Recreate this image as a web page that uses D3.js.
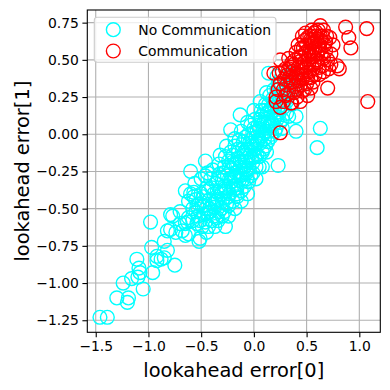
<!DOCTYPE html>
<html>
<head>
<meta charset="utf-8">
<script src="https://cdn.jsdelivr.net/npm/d3@7"></script>
<style>
  body { margin: 0; background: #fff; }
  svg { display: block; font-family: "DejaVu Sans", sans-serif; }
</style>
</head>
<body>
<svg id="chart"></svg>
<script>
// data: [error0, error1]
let noComm = [
  [-1.46,-1.23],[-1.39,-1.23],[-1.30,-1.10],[-1.19,-1.10],[-1.20,-1.13],[-1.24,-1.00],
  [-1.16,-0.97],[-1.10,-0.96],[-1.05,-1.04],[-1.08,-0.93],[-1.11,-0.84],[-1.09,-0.90],
  [-0.96,-0.93],[-0.97,-0.76],[-0.98,-0.59],[-0.92,-0.85],[-0.92,-0.82],[-0.88,-0.84],
  [-0.85,-0.83],[-0.82,-0.78],[-0.75,-0.88],[-0.85,-0.72],[-0.77,-0.55],[-0.70,-0.52],
  [-0.82,-0.65],[-0.79,-0.64],[-0.68,-0.65],[-0.65,-0.68],[-0.63,-0.59],[-0.70,-0.60],
  [-0.79,-0.54],[-0.74,-0.66],[-0.62,-0.67],[-0.52,-0.72],[-0.65,-0.60],[-0.58,-0.58],
  [-0.55,-0.52],[-0.49,-0.48],
  [-0.60,-0.25],[-0.46,-0.18],[-0.51,-0.70],[-0.46,-0.59],[-0.24,-0.55],
  [-0.65,-0.38],[-0.57,-0.39],[-0.16,-0.40],[-0.62,-0.45],
  [-0.58,-0.50],[-0.55,-0.44],[-0.53,-0.55],[-0.50,-0.40],[-0.49,-0.62],[-0.47,-0.48],
  [-0.45,-0.36],[-0.44,-0.53],[-0.42,-0.44],[-0.41,-0.30],[-0.40,-0.58],[-0.38,-0.40],
  [-0.37,-0.49],[-0.36,-0.33],[-0.35,-0.56],[-0.34,-0.44],[-0.33,-0.27],[-0.32,-0.38],
  [-0.31,-0.50],[-0.30,-0.31],[-0.29,-0.43],[-0.28,-0.22],[-0.27,-0.36],[-0.26,-0.47],
  [-0.25,-0.28],[-0.24,-0.18],[-0.23,-0.40],[-0.22,-0.32],[-0.21,-0.24],[-0.20,-0.14],
  [-0.19,-0.37],[-0.18,-0.28],[-0.17,-0.20],[-0.16,-0.42],[-0.15,-0.10],[-0.14,-0.31],
  [-0.13,-0.22],[-0.12,-0.15],[-0.11,-0.27],[-0.10,-0.05],[-0.09,-0.35],[-0.08,-0.18],
  [-0.07,-0.10],[-0.06,-0.24],[-0.05,0.00],[-0.04,-0.14],[-0.03,-0.28],[-0.02,-0.06],
  [-0.01,-0.19],[0.00,0.04],[0.01,-0.10],[0.02,-0.22],[0.03,0.02],[0.04,-0.04],
  [0.05,-0.15],[0.06,0.10],[0.07,-0.02],[0.08,0.06],[0.09,-0.10],[0.10,0.16],
  [0.11,0.02],[0.12,0.10],[0.13,-0.05],[0.14,0.20],[0.15,0.06],[0.16,0.14],
  [0.17,0.00],[0.18,0.24],[0.19,0.10],[0.20,0.18],[0.21,0.04],[0.22,0.30],
  [0.23,0.15],[0.24,0.22],[0.25,0.08],[0.26,0.34],[0.27,0.20],[0.28,0.28],
  [0.30,0.38],[0.31,0.14],[0.32,0.25],[0.34,0.32],[0.36,0.20],[0.38,0.42],[0.40,0.30],
  [-0.57,-0.42],[-0.54,-0.60],[-0.52,-0.47],[-0.48,-0.54],[-0.43,-0.38],[-0.39,-0.47],
  [-0.35,-0.39],[-0.33,-0.52],[-0.30,-0.45],[-0.28,-0.35],[-0.25,-0.42],[-0.23,-0.30],
  [-0.21,-0.19],[-0.19,-0.29],[-0.17,-0.34],[-0.15,-0.25],[-0.13,-0.18],[-0.11,-0.10],
  [-0.09,-0.22],[-0.07,-0.30],[-0.05,-0.12],[-0.03,-0.08],[-0.01,0.01],[0.01,-0.15],
  [0.03,-0.06],[0.05,0.04],[0.07,0.12],[0.09,0.00],[0.11,-0.08],[0.13,0.08],
  [0.15,0.16],[0.17,0.08],[0.19,0.20],[0.21,0.12],[0.23,0.26],[0.25,0.18],
  [0.27,0.10],[0.29,0.22],[0.33,0.36],[0.35,0.28],
  [-0.44,-0.26],[-0.42,-0.50],[-0.40,-0.36],[-0.39,-0.24],[-0.38,-0.55],[-0.36,-0.45],
  [-0.34,-0.30],[-0.33,-0.20],[-0.31,-0.40],[-0.30,-0.55],[-0.29,-0.26],[-0.27,-0.15],
  [-0.26,-0.38],[-0.24,-0.48],[-0.23,-0.22],[-0.22,-0.12],[-0.20,-0.35],[-0.20,-0.45],
  [-0.19,-0.20],[-0.18,-0.08],[-0.17,-0.26],[-0.16,-0.36],[-0.15,-0.16],[-0.14,-0.04],
  [-0.13,-0.28],[-0.12,-0.38],[-0.11,-0.18],[-0.10,-0.30],[-0.09,-0.12],[-0.08,-0.02],
  [-0.07,-0.26],[-0.06,-0.16],[-0.05,-0.32],[-0.04,-0.06],[-0.03,0.06],[-0.02,-0.16],
  [-0.01,-0.26],[0.00,-0.08],[0.01,0.10],[0.02,-0.02],[0.03,-0.14],[0.04,0.06],
  [0.05,-0.22],[0.06,-0.06],[0.07,0.16],[0.08,-0.12],[0.09,0.08],[0.10,-0.03],
  [0.11,0.20],[0.12,-0.12],[0.13,0.14],[0.14,0.02],[0.15,0.26],[0.16,-0.02],
  [0.17,0.18],[0.18,0.06],[0.19,0.30],[0.20,0.02],[0.21,0.22],[0.22,0.10],
  [0.23,0.34],[0.24,0.14],[0.26,0.26],[0.27,0.04],[0.28,0.18],[0.30,0.30],
  [0.31,0.22],[0.33,0.12],[0.35,0.40],[0.37,0.30],
  [-0.62,-0.56],[-0.60,-0.40],[-0.56,-0.33],[-0.54,-0.48],[-0.51,-0.58],[-0.50,-0.30],
  [-0.48,-0.42],[-0.46,-0.28],[-0.45,-0.66],[-0.43,-0.62],[-0.41,-0.52],[-0.37,-0.62],
  [-0.34,-0.58],[-0.28,-0.52],[-0.27,-0.62],[-0.18,-0.50],[-0.12,-0.45],[-0.06,-0.40],
  [0.02,-0.30],[0.08,-0.22],[0.12,0.28],[0.06,0.22],[0.00,0.16],[-0.06,0.08],
  [-0.12,0.02],[-0.18,-0.03],[-0.26,-0.08],[-0.32,-0.14],
  [-0.13,0.13],[-0.22,0.03],[0.14,0.41],[0.22,0.39],[0.63,0.04],[0.60,-0.09],
  [0.40,0.02],[0.40,0.12],[0.23,-0.21]
];

let comm = [
  [1.07,0.71],[0.87,0.72],[0.90,0.65],[0.92,0.58],[0.63,0.73],[0.70,0.31],[1.08,0.22],
  [0.81,0.44],[0.79,0.46],[0.73,0.47],[0.47,0.58],[0.51,0.65],[0.585,0.69],[0.65,0.66],
  [0.68,0.62],[0.62,0.60],[0.55,0.63],[0.54,0.54],[0.60,0.54],[0.66,0.51],[0.73,0.54],
  [0.71,0.44],[0.65,0.46],[0.57,0.47],[0.44,0.49],[0.38,0.47],[0.33,0.51],[0.24,0.41],
  [0.32,0.40],[0.41,0.41],[0.47,0.43],[0.51,0.38],[0.43,0.36],[0.35,0.35],[0.25,0.34],
  [0.54,0.31],[0.46,0.29],[0.38,0.28],[0.32,0.27],[0.21,0.25],[0.28,0.22],[0.36,0.21],
  [0.44,0.22],[0.51,0.26],[0.25,0.01],[0.21,0.22],[0.25,0.18],[0.35,0.21],[0.41,0.25],
  [0.40,0.55],[0.45,0.52],[0.50,0.60],[0.52,0.48],[0.55,0.56],[0.58,0.62],[0.60,0.50],
  [0.62,0.57],[0.64,0.63],[0.56,0.44],[0.48,0.40],[0.42,0.45],[0.37,0.42],[0.34,0.38],
  [0.30,0.44],[0.44,0.33],[0.50,0.34],[0.39,0.32],[0.57,0.68],[0.61,0.70],[0.53,0.66],
  [0.48,0.63],[0.45,0.58],[0.68,0.56],[0.70,0.50],[0.66,0.42],[0.62,0.45],[0.58,0.40],
  [0.54,0.38],[0.47,0.48],[0.43,0.40],[0.36,0.48],[0.31,0.33],[0.28,0.30],[0.58,0.58],
  [0.52,0.53],[0.63,0.66],[0.67,0.60],[0.60,0.64],[0.55,0.61],
  [0.42,0.60],[0.46,0.66],[0.49,0.55],[0.51,0.50],[0.53,0.58],[0.56,0.52],[0.59,0.66],
  [0.61,0.59],[0.57,0.55],[0.54,0.64],[0.50,0.45],[0.46,0.37],[0.40,0.38],[0.37,0.35],
  [0.33,0.44],[0.29,0.37],[0.27,0.42],[0.39,0.50],[0.45,0.45],[0.52,0.42],[0.60,0.48],
  [0.64,0.54],[0.69,0.66],[0.66,0.70],[0.55,0.70],[0.49,0.68],[0.43,0.52],[0.35,0.45],
  [0.41,0.30],[0.48,0.30],[0.56,0.35],[0.62,0.40],[0.75,0.60],[0.72,0.65],[0.23,0.30],
  [0.30,0.26],[0.19,0.41],[0.25,0.50]
];

let xTicks = [-1.5, -1.0, -0.5, 0.0, 0.5, 1.0];
let yTicks = [-1.25, -1.00, -0.75, -0.50, -0.25, 0.00, 0.25, 0.50, 0.75];
let seriesNames = ["No Communication", "Communication"];
let seriesColors = ["#00ffff", "#ff0000"];

let W = 390, H = 390;
let mLeft = 87.3, mRight = 380.3, mTop = 10, mBottom = 332.3;

let svg = d3.select("#chart").attr("width", W).attr("height", H);
svg.append("rect").attr("width", W).attr("height", H).attr("fill", "#fff");

let x = d3.scaleLinear().domain([-1.58, 1.199]).range([mLeft, mRight]);
let y = d3.scaleLinear().domain([-1.331, 0.835]).range([mBottom, mTop]);

let minus = s => s.replace("-", "\u2212");

// grid
let grid = svg.append("g");
grid.selectAll(".gx").data(xTicks).enter().append("line")
  .attr("x1", d => x(d)).attr("x2", d => x(d))
  .attr("y1", mTop).attr("y2", mBottom)
  .attr("stroke", "#b0b0b0").attr("stroke-width", 1.1);
grid.selectAll(".gy").data(yTicks).enter().append("line")
  .attr("y1", d => y(d)).attr("y2", d => y(d))
  .attr("x1", mLeft).attr("x2", mRight)
  .attr("stroke", "#b0b0b0").attr("stroke-width", 1.1);

// points
let pts = svg.append("g").attr("fill", "none").attr("stroke-width", 1.4);
pts.selectAll(".c0").data(noComm).enter().append("circle")
  .attr("cx", d => x(d[0])).attr("cy", d => y(d[1])).attr("r", 6.9)
  .attr("stroke", seriesColors[0]);
pts.selectAll(".c1").data(comm).enter().append("circle")
  .attr("cx", d => x(d[0])).attr("cy", d => y(d[1])).attr("r", 6.9)
  .attr("stroke", seriesColors[1]);

// axes
let xAxis = d3.axisBottom(x).tickValues(xTicks)
  .tickFormat(d => minus(d3.format(".1f")(d)))
  .tickSize(4.9).tickPadding(3.5).tickSizeOuter(0);
let yAxis = d3.axisLeft(y).tickValues(yTicks)
  .tickFormat(d => minus(d3.format(".2f")(d)))
  .tickSize(4.9).tickPadding(3.5).tickSizeOuter(0);

let gx = svg.append("g").attr("transform", `translate(0,${mBottom})`).call(xAxis);
let gy = svg.append("g").attr("transform", `translate(${mLeft},0)`).call(yAxis);
[gx, gy].forEach(g => {
  g.select(".domain").remove();
  g.selectAll("line").attr("stroke", "#000").attr("stroke-width", 1.1);
  g.selectAll("text").attr("fill", "#000")
    .style("font-family", "DejaVu Sans").style("font-size", "13.9px");
});

// frame
svg.append("rect")
  .attr("x", mLeft).attr("y", mTop)
  .attr("width", mRight - mLeft).attr("height", mBottom - mTop)
  .attr("fill", "none").attr("stroke", "#000").attr("stroke-width", 1.1);

// axis labels
svg.append("text")
  .attr("x", (mLeft + mRight) / 2).attr("y", 377)
  .attr("text-anchor", "middle")
  .style("font-size", "19.4px")
  .text("lookahead error[0]");
svg.append("text")
  .attr("transform", `translate(29,${(mTop + mBottom) / 2}) rotate(-90)`)
  .attr("text-anchor", "middle")
  .style("font-size", "19.4px")
  .text("lookahead error[1]");

// legend
let lg = svg.append("g");
lg.append("rect")
  .attr("x", 94.3).attr("y", 17.3).attr("width", 181.7).attr("height", 45)
  .attr("rx", 3).attr("fill", "#fff").attr("fill-opacity", 0.8)
  .attr("stroke", "#cccccc").attr("stroke-width", 1.1);
let rows = lg.selectAll(".row").data(seriesNames).enter().append("g")
  .attr("transform", (d, i) => `translate(0,${29.7 + i * 21.3})`);
rows.append("circle")
  .attr("cx", 113.3).attr("cy", 0).attr("r", 6.9)
  .attr("fill", "none").attr("stroke-width", 1.4)
  .attr("stroke", (d, i) => seriesColors[i]);
rows.append("text")
  .attr("x", 138.3).attr("y", 0).attr("dy", "0.35em")
  .style("font-size", "13.9px")
  .text(d => d);
</script>
</body>
</html>
